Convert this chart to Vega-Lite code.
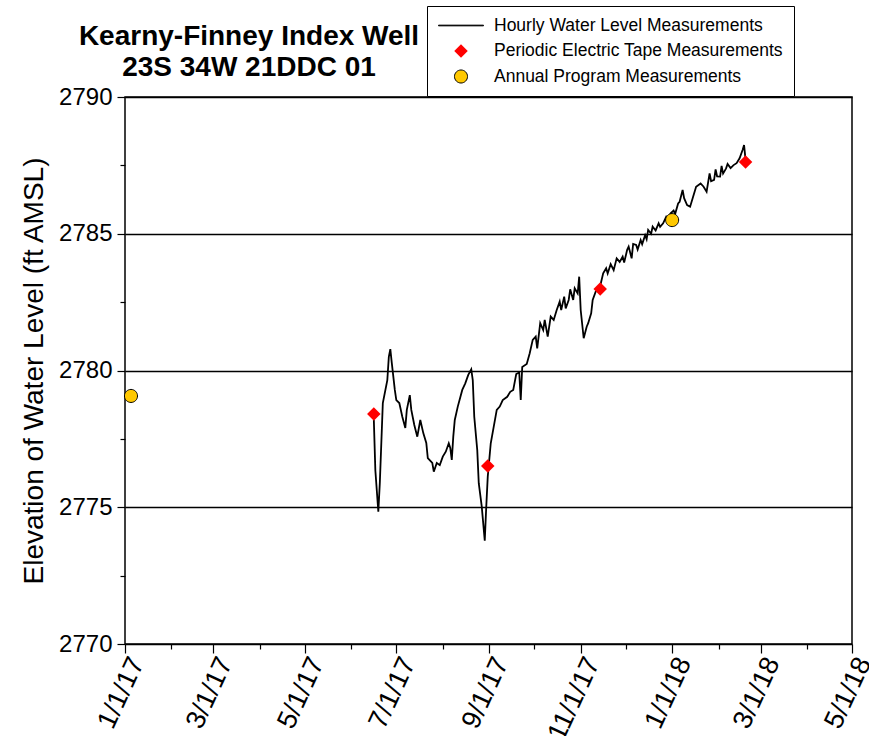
{
  "$schema": "https://vega.github.io/schema/vega-lite/v6.json",
  "width": 727,
  "height": 547,
  "autosize": {"type": "none"},
  "padding": {"left": 125, "top": 97, "right": 17, "bottom": 92},
  "background": "white",
  "config": {
    "font": "Liberation Sans",
    "view": {"stroke": "black", "strokeWidth": 1.5}
  },
  "title": {
    "text": ["Kearny-Finney Index Well", "23S 34W 21DDC 01"],
    "anchor": "start",
    "align": "center",
    "dx": 124,
    "dy": 79,
    "frame": "group",
    "offset": 3,
    "fontSize": 28,
    "fontWeight": "bold",
    "font": "Liberation Sans",
    "lineHeight": 31,
    "color": "black"
  },
  "datasets": {
    "hourly": [
      {"date": "2017-06-16", "level": 2778.2},
      {"date": "2017-06-17", "level": 2776.36},
      {"date": "2017-06-19", "level": 2774.84},
      {"date": "2017-06-20", "level": 2775.89},
      {"date": "2017-06-22", "level": 2778.81},
      {"date": "2017-06-25", "level": 2779.65},
      {"date": "2017-06-26", "level": 2780.5},
      {"date": "2017-06-27", "level": 2780.78},
      {"date": "2017-06-28", "level": 2780.27},
      {"date": "2017-06-30", "level": 2779.29},
      {"date": "2017-07-01", "level": 2778.92},
      {"date": "2017-07-03", "level": 2778.81},
      {"date": "2017-07-05", "level": 2778.31},
      {"date": "2017-07-07", "level": 2777.9},
      {"date": "2017-07-08", "level": 2778.56},
      {"date": "2017-07-10", "level": 2779.1},
      {"date": "2017-07-11", "level": 2778.56},
      {"date": "2017-07-13", "level": 2778.01},
      {"date": "2017-07-15", "level": 2777.58},
      {"date": "2017-07-17", "level": 2778.19},
      {"date": "2017-07-19", "level": 2777.71},
      {"date": "2017-07-21", "level": 2777.35},
      {"date": "2017-07-22", "level": 2776.8},
      {"date": "2017-07-25", "level": 2776.62},
      {"date": "2017-07-26", "level": 2776.3},
      {"date": "2017-07-28", "level": 2776.62},
      {"date": "2017-07-30", "level": 2776.54},
      {"date": "2017-08-01", "level": 2776.85},
      {"date": "2017-08-03", "level": 2777.03},
      {"date": "2017-08-05", "level": 2777.34},
      {"date": "2017-08-06", "level": 2777.17},
      {"date": "2017-08-07", "level": 2776.73},
      {"date": "2017-08-08", "level": 2777.58},
      {"date": "2017-08-09", "level": 2778.19},
      {"date": "2017-08-11", "level": 2778.68},
      {"date": "2017-08-14", "level": 2779.29},
      {"date": "2017-08-16", "level": 2779.53},
      {"date": "2017-08-18", "level": 2779.84},
      {"date": "2017-08-20", "level": 2780.04},
      {"date": "2017-08-21", "level": 2779.65},
      {"date": "2017-08-22", "level": 2778.31},
      {"date": "2017-08-24", "level": 2777.09},
      {"date": "2017-08-25", "level": 2775.88},
      {"date": "2017-08-27", "level": 2775.02},
      {"date": "2017-08-29", "level": 2773.78},
      {"date": "2017-08-30", "level": 2775.02},
      {"date": "2017-08-31", "level": 2776.12},
      {"date": "2017-09-02", "level": 2777.34},
      {"date": "2017-09-04", "level": 2777.95},
      {"date": "2017-09-06", "level": 2778.56},
      {"date": "2017-09-08", "level": 2778.68},
      {"date": "2017-09-10", "level": 2778.92},
      {"date": "2017-09-13", "level": 2779.04},
      {"date": "2017-09-15", "level": 2779.22},
      {"date": "2017-09-17", "level": 2779.29},
      {"date": "2017-09-19", "level": 2779.87},
      {"date": "2017-09-21", "level": 2779.93},
      {"date": "2017-09-22", "level": 2778.92},
      {"date": "2017-09-23", "level": 2780.13},
      {"date": "2017-09-26", "level": 2780.24},
      {"date": "2017-09-28", "level": 2780.63},
      {"date": "2017-09-30", "level": 2781.12},
      {"date": "2017-10-02", "level": 2781.24},
      {"date": "2017-10-03", "level": 2780.81},
      {"date": "2017-10-05", "level": 2781.73},
      {"date": "2017-10-07", "level": 2781.48},
      {"date": "2017-10-08", "level": 2781.85},
      {"date": "2017-10-10", "level": 2781.24},
      {"date": "2017-10-12", "level": 2781.97},
      {"date": "2017-10-14", "level": 2781.85},
      {"date": "2017-10-16", "level": 2782.21},
      {"date": "2017-10-18", "level": 2782.52},
      {"date": "2017-10-19", "level": 2782.21},
      {"date": "2017-10-21", "level": 2782.7},
      {"date": "2017-10-22", "level": 2782.27},
      {"date": "2017-10-24", "level": 2782.58},
      {"date": "2017-10-25", "level": 2782.97},
      {"date": "2017-10-27", "level": 2782.58},
      {"date": "2017-10-28", "level": 2783.01},
      {"date": "2017-10-30", "level": 2782.82},
      {"date": "2017-10-31", "level": 2783.43},
      {"date": "2017-11-01", "level": 2782.21},
      {"date": "2017-11-03", "level": 2781.18},
      {"date": "2017-11-05", "level": 2781.6},
      {"date": "2017-11-06", "level": 2781.73},
      {"date": "2017-11-08", "level": 2782.09},
      {"date": "2017-11-09", "level": 2782.58},
      {"date": "2017-11-11", "level": 2782.88},
      {"date": "2017-11-14", "level": 2783.09},
      {"date": "2017-11-16", "level": 2783.55},
      {"date": "2017-11-18", "level": 2783.74},
      {"date": "2017-11-19", "level": 2783.55},
      {"date": "2017-11-21", "level": 2783.89},
      {"date": "2017-11-23", "level": 2783.67},
      {"date": "2017-11-25", "level": 2784.1},
      {"date": "2017-11-27", "level": 2783.97},
      {"date": "2017-11-29", "level": 2784.16},
      {"date": "2017-11-30", "level": 2783.95},
      {"date": "2017-12-02", "level": 2784.41},
      {"date": "2017-12-03", "level": 2784.53},
      {"date": "2017-12-05", "level": 2784.1},
      {"date": "2017-12-06", "level": 2784.63},
      {"date": "2017-12-08", "level": 2784.59},
      {"date": "2017-12-09", "level": 2784.42},
      {"date": "2017-12-11", "level": 2784.77},
      {"date": "2017-12-12", "level": 2784.62},
      {"date": "2017-12-14", "level": 2784.95},
      {"date": "2017-12-15", "level": 2784.8},
      {"date": "2017-12-16", "level": 2785.14},
      {"date": "2017-12-18", "level": 2785.0},
      {"date": "2017-12-19", "level": 2785.26},
      {"date": "2017-12-21", "level": 2785.12},
      {"date": "2017-12-23", "level": 2785.38},
      {"date": "2017-12-24", "level": 2785.25},
      {"date": "2017-12-26", "level": 2785.38},
      {"date": "2017-12-28", "level": 2785.62},
      {"date": "2017-12-29", "level": 2785.5},
      {"date": "2017-12-31", "level": 2785.75},
      {"date": "2018-01-02", "level": 2785.85},
      {"date": "2018-01-03", "level": 2785.72},
      {"date": "2018-01-05", "level": 2786.11},
      {"date": "2018-01-06", "level": 2786.17},
      {"date": "2018-01-08", "level": 2786.6},
      {"date": "2018-01-09", "level": 2786.3},
      {"date": "2018-01-11", "level": 2786.05},
      {"date": "2018-01-13", "level": 2785.99},
      {"date": "2018-01-15", "level": 2786.35},
      {"date": "2018-01-17", "level": 2786.72},
      {"date": "2018-01-20", "level": 2786.84},
      {"date": "2018-01-22", "level": 2786.72},
      {"date": "2018-01-24", "level": 2786.54},
      {"date": "2018-01-26", "level": 2787.21},
      {"date": "2018-01-27", "level": 2786.92},
      {"date": "2018-01-29", "level": 2786.97},
      {"date": "2018-01-30", "level": 2787.35},
      {"date": "2018-01-31", "level": 2787.1},
      {"date": "2018-02-02", "level": 2787.09},
      {"date": "2018-02-03", "level": 2787.48},
      {"date": "2018-02-04", "level": 2787.2},
      {"date": "2018-02-06", "level": 2787.39},
      {"date": "2018-02-07", "level": 2787.55},
      {"date": "2018-02-09", "level": 2787.4},
      {"date": "2018-02-11", "level": 2787.51},
      {"date": "2018-02-13", "level": 2787.58},
      {"date": "2018-02-15", "level": 2787.76},
      {"date": "2018-02-17", "level": 2788.06},
      {"date": "2018-02-18", "level": 2788.24},
      {"date": "2018-02-19", "level": 2787.7}
    ],
    "points": [
      {"date": "2017-01-05", "level": 2779.07, "series": "Annual Program Measurements"},
      {"date": "2018-01-01", "level": 2785.5, "series": "Annual Program Measurements"},
      {"date": "2017-06-16", "level": 2778.41, "series": "Periodic Electric Tape Measurements"},
      {"date": "2017-08-31", "level": 2776.51, "series": "Periodic Electric Tape Measurements"},
      {"date": "2017-11-14", "level": 2782.98, "series": "Periodic Electric Tape Measurements"},
      {"date": "2018-02-19", "level": 2787.62, "series": "Periodic Electric Tape Measurements"}
    ]
  },
  "resolve": {"axis": {"x": "independent", "y": "independent"}},
  "layer": [
    {
      "data": {"name": "hourly"},
      "mark": {"type": "line", "color": "black", "strokeWidth": 1.8, "interpolate": "linear"},
      "encoding": {
        "x": {
          "field": "date",
          "type": "temporal",
          "scale": {
            "type": "utc",
            "domain": [
              {"year": 2017, "month": 1, "date": 1, "utc": true},
              {"year": 2018, "month": 5, "date": 1, "utc": true}
            ]
          },
          "axis": {
            "orient": "bottom",
            "values": [
              {"year": 2017, "month": 1, "date": 1, "utc": true},
              {"year": 2017, "month": 3, "date": 1, "utc": true},
              {"year": 2017, "month": 5, "date": 1, "utc": true},
              {"year": 2017, "month": 7, "date": 1, "utc": true},
              {"year": 2017, "month": 9, "date": 1, "utc": true},
              {"year": 2017, "month": 11, "date": 1, "utc": true},
              {"year": 2018, "month": 1, "date": 1, "utc": true},
              {"year": 2018, "month": 3, "date": 1, "utc": true},
              {"year": 2018, "month": 5, "date": 1, "utc": true}
            ],
            "format": "%-m/%-d/%y",
            "labelAngle": -65,
            "labelAlign": "right",
            "labelBaseline": "top",
            "labelFontSize": 27,
            "labelColor": "black",
            "labelPadding": 0,
            "labelOverlap": false,
            "labelFlush": false,
            "tickSize": 9,
            "tickColor": "black",
            "tickWidth": 1.2,
            "domain": false,
            "grid": false,
            "title": null
          }
        },
        "y": {
          "field": "level",
          "type": "quantitative",
          "scale": {"domain": [2770, 2790], "nice": false, "zero": false},
          "axis": {
            "orient": "left",
            "values": [2770, 2775, 2780, 2785, 2790],
            "format": "d",
            "labelFontSize": 24,
            "labelColor": "black",
            "labelPadding": 5,
            "tickSize": 8,
            "tickColor": "black",
            "tickWidth": 1.2,
            "domain": false,
            "grid": true,
            "gridColor": "black",
            "gridWidth": 1.4,
            "gridOpacity": 1,
            "title": "Elevation of Water Level (ft AMSL)",
            "titleFontSize": 28,
            "titleFontWeight": "normal",
            "titleColor": "black",
            "titlePadding": 10
          }
        }
      }
    },
    {
      "data": {"name": "points"},
      "mark": {"type": "point", "filled": true, "opacity": 1, "strokeWidth": 1, "size": 2025},
      "encoding": {
        "x": {
          "field": "date",
          "type": "temporal",
          "scale": {
            "type": "utc",
            "domain": [
              {"year": 2017, "month": 1, "date": 1, "utc": true},
              {"year": 2018, "month": 5, "date": 1, "utc": true}
            ]
          },
          "axis": {
            "orient": "bottom",
            "values": [
              {"year": 2017, "month": 2, "date": 1, "utc": true},
              {"year": 2017, "month": 4, "date": 1, "utc": true},
              {"year": 2017, "month": 6, "date": 1, "utc": true},
              {"year": 2017, "month": 8, "date": 1, "utc": true},
              {"year": 2017, "month": 10, "date": 1, "utc": true},
              {"year": 2017, "month": 12, "date": 1, "utc": true},
              {"year": 2018, "month": 2, "date": 1, "utc": true},
              {"year": 2018, "month": 4, "date": 1, "utc": true}
            ],
            "labels": false,
            "tickSize": 5,
            "tickColor": "black",
            "tickWidth": 1.2,
            "domain": false,
            "grid": false,
            "title": null
          }
        },
        "y": {
          "field": "level",
          "type": "quantitative",
          "scale": {"domain": [2770, 2790], "nice": false, "zero": false},
          "axis": {
            "orient": "left",
            "values": [2772.5, 2777.5, 2782.5, 2787.5],
            "labels": false,
            "tickSize": 5,
            "tickColor": "black",
            "tickWidth": 1.2,
            "domain": false,
            "grid": false,
            "title": null
          }
        },
        "color": {
          "field": "series",
          "type": "nominal",
          "scale": {
            "domain": ["Hourly Water Level Measurements", "Periodic Electric Tape Measurements", "Annual Program Measurements"],
            "range": ["black", "#FF0000", "#FFC800"]
          },
          "legend": {
            "title": null,
            "orient": "none",
            "legendX": 302,
            "legendY": -91,
            "padding": 11,
            "strokeColor": "black",
            "fillColor": "white",
            "labelFontSize": 17.5,
            "labelColor": "black",
            "labelOffset": 10,
            "rowPadding": 7.5,
            "symbolSize": 2025,
            "symbolStrokeWidth": 1,
            "symbolOpacity": 1,
            "clipHeight": 17,
            "labelLimit": 400,
            "labelExpr": "datum.label + '      '"
          }
        },
        "stroke": {
          "field": "series",
          "type": "nominal",
          "scale": {
            "domain": ["Hourly Water Level Measurements", "Periodic Electric Tape Measurements", "Annual Program Measurements"],
            "range": ["black", "transparent", "black"]
          },
          "legend": {
            "title": null,
            "orient": "none",
            "legendX": 302,
            "legendY": -91,
            "padding": 11,
            "strokeColor": "black",
            "fillColor": "white",
            "labelFontSize": 17.5,
            "labelColor": "black",
            "labelOffset": 10,
            "rowPadding": 7.5,
            "symbolSize": 2025,
            "symbolStrokeWidth": 1,
            "symbolOpacity": 1,
            "clipHeight": 17,
            "labelLimit": 400,
            "labelExpr": "datum.label + '      '"
          }
        },
        "shape": {
          "field": "series",
          "type": "nominal",
          "scale": {
            "domain": ["Hourly Water Level Measurements", "Periodic Electric Tape Measurements", "Annual Program Measurements"],
            "range": [
              "M-1,-0.015L1,-0.015L1,0.015L-1,0.015Z",
              "M0,-0.3L0.3,0L0,0.3L-0.3,0Z",
              "M0.29,0A0.29,0.29,0,1,1,-0.29,0A0.29,0.29,0,1,1,0.29,0Z"
            ]
          },
          "legend": {
            "title": null,
            "orient": "none",
            "legendX": 302,
            "legendY": -91,
            "padding": 11,
            "strokeColor": "black",
            "fillColor": "white",
            "labelFontSize": 17.5,
            "labelColor": "black",
            "labelOffset": 10,
            "rowPadding": 7.5,
            "symbolSize": 2025,
            "symbolStrokeWidth": 1,
            "symbolOpacity": 1,
            "clipHeight": 17,
            "labelLimit": 400,
            "labelExpr": "datum.label + '      '"
          }
        }
      }
    }
  ]
}
